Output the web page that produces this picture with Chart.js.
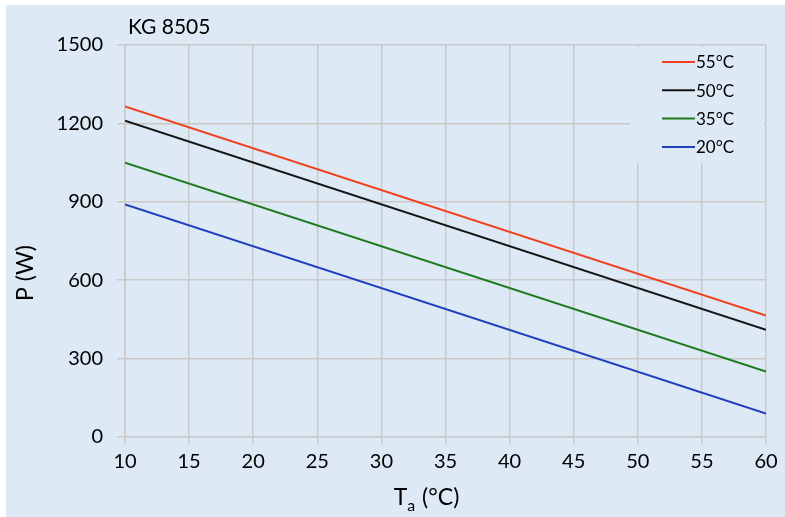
<!DOCTYPE html>
<html><head><meta charset="utf-8">
<script src="https://cdn.jsdelivr.net/npm/chart.js@4.4.1/dist/chart.umd.min.js"></script>
<style>html,body{margin:0;padding:0;background:#fff;}#c{display:block;}</style>
</head><body>
<canvas id="c" width="785" height="517"></canvas>
<script>
const chartTitle = "KG 8505";
const xValues = [10, 60];
const xTicks = [10, 15, 20, 25, 30, 35, 40, 45, 50, 55, 60];
const yTicks = [0, 300, 600, 900, 1200, 1500];
const seriesLabels = ["55°C", "50°C", "35°C", "20°C"];
const s55 = [1265, 465];
const s50 = [1210, 410];
const s35 = [1050, 250];
const s20 = [890, 90];
const seriesColors = ["#f2401e", "#151515", "#1e7a1e", "#1f3fbf"];

const FONT = "Lato, 'Open Sans', sans-serif";
const BG = "#dde9f5";
const GRID = "#c9c9c9";
const TXT = "#000";

const allSeries = [s55, s50, s35, s20];
const datasets = allSeries.map((s, i) => ({
  label: seriesLabels[i],
  data: xValues.map((x, j) => ({x: x, y: s[j]})),
  borderColor: seriesColors[i],
  backgroundColor: seriesColors[i],
  borderWidth: 2,
  pointRadius: 0,
  tension: 0
}));

const decor = {
  id: 'decor',
  beforeDraw(chart) {
    const ctx = chart.ctx;
    ctx.save();
    ctx.fillStyle = '#fff';
    ctx.fillRect(0, 0, chart.width, chart.height);
    ctx.fillStyle = BG;
    ctx.fillRect(6, 5, chart.width - 6, chart.height - 5);
    ctx.restore();
  },
  beforeDatasetsDraw(chart) {
    const ctx = chart.ctx;
    ctx.save();
    ctx.fillStyle = BG;
    ctx.fillRect(630, 47, 134, 116);
    ctx.restore();
  },
  afterDraw(chart) {
    const ctx = chart.ctx;
    const ca = chart.chartArea;
    ctx.save();
    ctx.fillStyle = TXT;
    ctx.font = "21px " + FONT;
    ctx.textAlign = 'left';
    ctx.textBaseline = 'middle';
    ctx.fillText(chartTitle, 128, 27);
    ctx.font = "17px " + FONT;
    chart.data.datasets.forEach((ds, i) => {
      const y = 62 + i * 28.3;
      ctx.strokeStyle = ds.borderColor;
      ctx.lineWidth = 2;
      ctx.beginPath();
      ctx.moveTo(662, y);
      ctx.lineTo(695, y);
      ctx.stroke();
      ctx.fillStyle = TXT;
      ctx.textAlign = 'left';
      ctx.fillText(ds.label, 696, y + 1);
    });
    ctx.save();
    ctx.translate(26, 273);
    ctx.rotate(-Math.PI / 2);
    ctx.font = "23px " + FONT;
    ctx.textAlign = 'center';
    ctx.textBaseline = 'middle';
    ctx.fillStyle = TXT;
    ctx.fillText("P (W)", 0, 0);
    ctx.restore();
    const cx = 426;
    const yb = 505;
    ctx.textBaseline = 'alphabetic';
    ctx.textAlign = 'left';
    ctx.fillStyle = TXT;
    ctx.font = "23px " + FONT;
    const wT = ctx.measureText("T").width;
    ctx.font = "16px " + FONT;
    const wA = ctx.measureText("a").width;
    ctx.font = "23px " + FONT;
    const rest = " (°C)";
    const wR = ctx.measureText(rest).width;
    let x0 = cx - (wT + wA + wR) / 2;
    ctx.fillText("T", x0, yb);
    ctx.font = "16px " + FONT;
    ctx.fillText("a", x0 + wT, yb + 6);
    ctx.font = "23px " + FONT;
    ctx.fillText(rest, x0 + wT + wA + 1, yb);
    ctx.restore();
  }
};

new Chart(document.getElementById('c'), {
  type: 'line',
  data: { datasets },
  plugins: [decor],
  options: {
    responsive: false,
    animation: false,
    devicePixelRatio: 1,
    layout: { padding: { top: 45, right: 19, left: 0, bottom: 0 } },
    plugins: { legend: { display: false }, tooltip: { enabled: false }, title: { display: false } },
    scales: {
      x: {
        type: 'linear', min: 10, max: 60,
        afterBuildTicks(axis) { axis.ticks = xTicks.map(v => ({value: v})); },
        afterFit(axis) { axis.height = 80; },
        grid: { color: GRID, lineWidth: 1.5, drawTicks: true, tickLength: 7, tickColor: GRID },
        border: { display: true, color: GRID, width: 1.5 },
        ticks: { color: TXT, font: { family: FONT, size: 20 }, padding: 6, maxRotation: 0, autoSkip: false,
                 callback: v => String(v) }
      },
      y: {
        type: 'linear', min: 0, max: 1500,
        afterBuildTicks(axis) { axis.ticks = yTicks.map(v => ({value: v})); },
        afterFit(axis) { axis.width = 125; },
        grid: { color: GRID, lineWidth: 1.5, drawTicks: true, tickLength: 8, tickColor: GRID },
        border: { display: true, color: GRID, width: 1.5 },
        ticks: { color: TXT, font: { family: FONT, size: 20 }, padding: 14, callback: v => String(v) }
      }
    }
  }
});
</script>
</body></html>
